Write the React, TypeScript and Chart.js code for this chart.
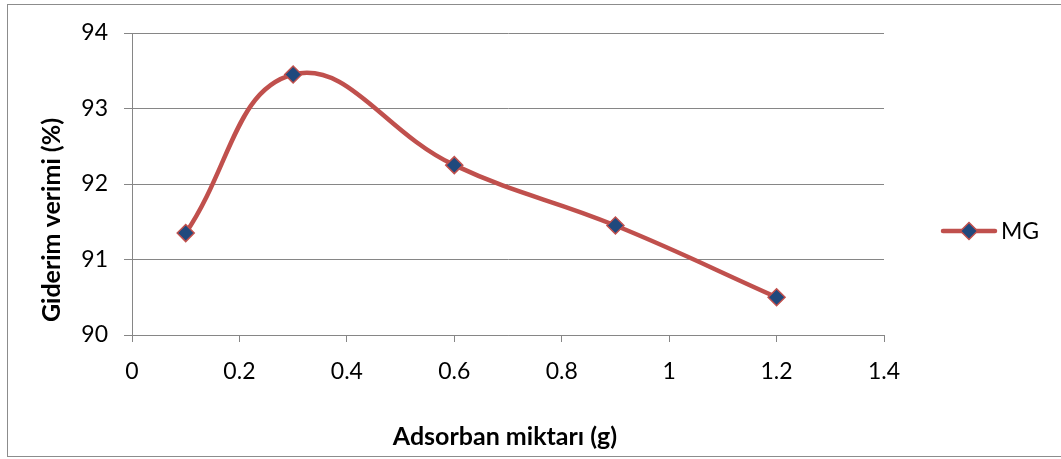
import React, { useEffect, useRef } from "react";
import { Chart, registerables } from "chart.js";

Chart.register(...registerables);

const xValues = [0.1, 0.3, 0.6, 0.9, 1.2];
const yValues = [91.35, 93.45, 92.25, 91.45, 90.5];
const seriesName = "MG";
const xTitle = "Adsorban miktarı (g)";
const yTitle = "Giderim verimi (%)";

const LINE = "#C0504D";
const MARKER = "#1F497D";
const GRID = "#868686";
const FONT = "Lato";

const framePlugin = {
  id: "frame",
  afterDraw(chart: any) {
    const ctx = chart.ctx;
    ctx.save();
    ctx.strokeStyle = "#8C8C8C";
    ctx.lineWidth = 1;
    ctx.strokeRect(7.5, 4.5, 1060, 452);
    // axis titles
    ctx.fillStyle = "#000";
    ctx.font = `bold 25px ${FONT}`;
    ctx.textAlign = "center";
    ctx.textBaseline = "alphabetic";
    ctx.fillText(xTitle, 505, 445);
    ctx.save();
    ctx.translate(60, 220);
    ctx.rotate(-Math.PI / 2);
    ctx.fillText(yTitle, 0, 0);
    ctx.restore();
    // legend
    const ly = 231;
    ctx.strokeStyle = LINE;
    ctx.lineWidth = 4.5;
    ctx.lineCap = "round";
    ctx.beginPath();
    ctx.moveTo(943, ly);
    ctx.lineTo(995, ly);
    ctx.stroke();
    const cx = 969, r = 8.5;
    ctx.beginPath();
    ctx.moveTo(cx, ly - r);
    ctx.lineTo(cx + r, ly);
    ctx.lineTo(cx, ly + r);
    ctx.lineTo(cx - r, ly);
    ctx.closePath();
    ctx.fillStyle = MARKER;
    ctx.fill();
    ctx.lineWidth = 1.5;
    ctx.strokeStyle = LINE;
    ctx.stroke();
    ctx.fillStyle = "#000";
    ctx.font = `23px ${FONT}`;
    ctx.textBaseline = "middle";
    ctx.textAlign = "left";
    ctx.fillText(seriesName, 1001, ly + 1);
    ctx.restore();
  },
};

export default function App() {
  const ref = useRef<HTMLCanvasElement>(null);
  useEffect(() => {
    if (!ref.current) return;
    const chart = new Chart(ref.current, {
      type: "scatter",
      data: {
        datasets: [
          {
            label: seriesName,
            data: xValues.map((x, i) => ({ x, y: yValues[i] })),
            showLine: true,
            borderColor: LINE,
            borderWidth: 4.5,
            tension: 0.42,
            pointStyle: "rectRot",
            pointRadius: 8.5,
            pointHoverRadius: 8.5,
            pointBackgroundColor: MARKER,
            pointBorderColor: LINE,
            pointBorderWidth: 1.5,
          },
        ],
      },
      options: {
        animation: false,
        responsive: false,
        layout: { padding: { left: 0, right: 177, top: 33, bottom: 0 } },
        plugins: { legend: { display: false }, tooltip: { enabled: false } },
        scales: {
          x: {
            type: "linear",
            min: 0,
            max: 1.4,
            ticks: {
              stepSize: 0.2,
              color: "#000",
              padding: 16,
              font: { family: FONT, size: 23 },
              callback: (v: any) => String(Math.round(Number(v) * 10) / 10),
            },
            grid: { drawOnChartArea: false, color: GRID, tickLength: 7, lineWidth: 1 },
            border: { color: GRID, width: 1 },
            afterFit: (s: any) => {
              s.height = 124;
            },
          },
          y: {
            min: 90,
            max: 94,
            ticks: {
              stepSize: 1,
              color: "#000",
              padding: 16,
              font: { family: FONT, size: 23 },
            },
            grid: { color: GRID, tickLength: 8, lineWidth: 1 },
            border: { color: GRID, width: 1 },
            afterFit: (s: any) => {
              s.width = 132;
            },
          },
        },
      },
      plugins: [framePlugin],
    });
    return () => chart.destroy();
  }, []);
  return (
    <div style={{ position: "fixed", left: 0, top: 0, width: 1061, height: 459, background: "#fff" }}>
      <canvas ref={ref} width={1061} height={459} style={{ display: "block" }} />
    </div>
  );
}
